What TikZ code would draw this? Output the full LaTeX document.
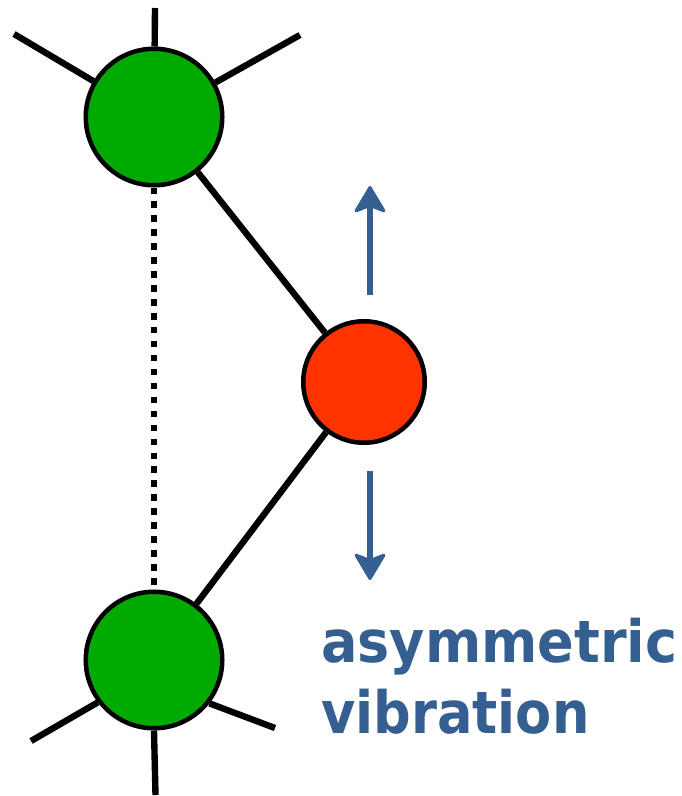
\documentclass[tikz,border=0pt]{standalone}
\usepackage{fontspec}
\setmainfont{DejaVu Sans}
\usetikzlibrary{arrows.meta}
\definecolor{gr}{RGB}{0,170,0}
\definecolor{rd}{RGB}{255,51,0}
\definecolor{bl}{RGB}{54,95,145}
\tikzset{
 x=0.0264583cm,y=-0.0264583cm,
 bond/.style={line width=4.8pt,black},
 atomg/.style={circle,draw=black,line width=3.4pt,fill=gr,minimum size=136.5*0.0264583cm,inner sep=0pt},
 atomr/.style={circle,draw=black,line width=3.4pt,fill=rd,minimum size=121.5*0.0264583cm,inner sep=0pt},
 mover/.style={draw=bl,line width=4.8pt,-{Stealth[length=22pt,width=26pt,inset=5pt,round,line width=2.4pt]}},
 lbl/.style={text=bl,anchor=base west,inner sep=0pt}
}
\newcommand{\lblfont}[2]{\scalebox{#1}[1]{\bfseries\fontsize{44pt}{44pt}\selectfont #2}}
\begin{document}
\begin{tikzpicture}
\useasboundingbox (0,0) rectangle (681,796);
\coordinate (t1) at (155,8);
\coordinate (t2) at (14,34);
\coordinate (t3) at (300,35);
\coordinate (b1) at (155.5,795);
\coordinate (b2) at (31,741);
\coordinate (b3) at (275,728);
\coordinate (u0) at (370,295);
\coordinate (u1) at (370,186);
\coordinate (d0) at (370,471);
\coordinate (d1) at (370,580);
\node[atomg] (gt) at (154,117) {};
\node[atomg] (gb) at (154,660) {};
\node[atomr] (r) at (364,382) {};
\draw[bond] (gt)--(t1);
\draw[bond] (gt)--(t2);
\draw[bond] (gt)--(t3);
\draw[bond] (gb.-90)--(b1);
\draw[bond] (gb.217)--(b2);
\draw[bond] (gb.-38)--(b3);
\draw[bond] (gt)--(r);
\draw[bond] (gb)--(r);
\draw[line width=4.8pt,dash pattern=on 4.9pt off 5.6pt] (gt.south)--(gb.north);
\draw[mover] (u0)--(u1);
\draw[mover] (d0)--(d1);
\node[lbl] (l1) at (321,662) {\lblfont{0.925}{asymmetric}};
\node[lbl] (l2) at (321,733) {\lblfont{0.9}{vibration}};
\end{tikzpicture}
\end{document}
